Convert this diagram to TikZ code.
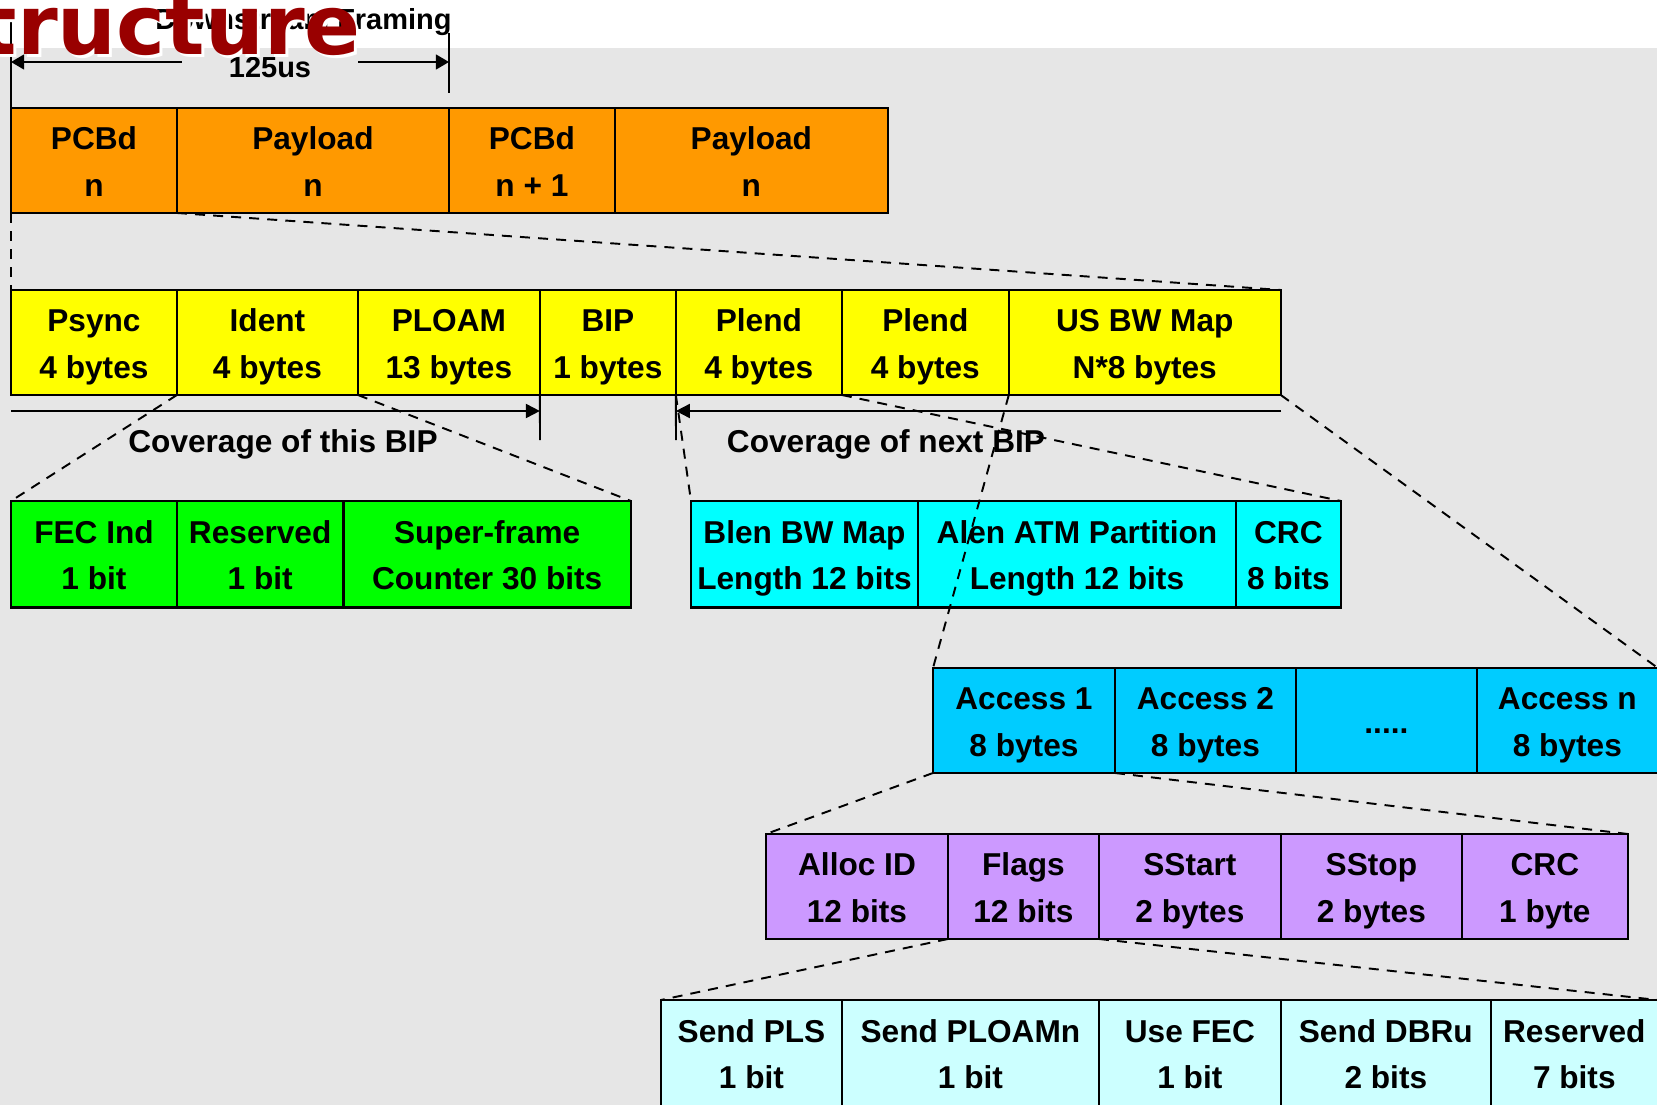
\documentclass[tikz,border=0pt]{standalone}
\usepackage{fontspec}
\setmainfont{Liberation Sans}
\newfontfamily\titlefont{DejaVu Sans}
\usepackage{xcolor}
\usetikzlibrary{positioning,arrows.meta}

\definecolor{bggray}{HTML}{E6E6E6}
\definecolor{hdrorange}{HTML}{FF9900}
\definecolor{pcbyellow}{HTML}{FFFF00}
\definecolor{psgreen}{HTML}{00FF00}
\definecolor{plcyan}{HTML}{00FFFF}
\definecolor{acblue}{HTML}{00CCFF}
\definecolor{alpurple}{HTML}{CC99FF}
\definecolor{flcyan}{HTML}{CCFFFF}
\definecolor{titlered}{HTML}{990000}

\begin{document}
\begin{tikzpicture}[x=0.02cm, y=-0.02cm,
    fieldbox/.style={draw, line width=1.3pt, outer sep=0pt, inner sep=0pt, minimum height=2.1cm, align=center,
        font=\fontsize{18pt}{26.3pt}\selectfont\bfseries, execute at end node={\vphantom{y}}},
    field/.style={fieldbox, execute at begin node={\rule{0pt}{1.554cm}}},
    covtext/.style={inner sep=0pt, font=\fontsize{18pt}{26pt}\selectfont\bfseries},
    toptext/.style={inner sep=0pt, font=\fontsize{16.5pt}{19pt}\selectfont\bfseries},
    fan/.style={line width=1.1pt, dash pattern=on 5.7pt off 4.6pt},
    tick/.style={line width=1.1pt},
    dimline/.style={line width=1.1pt, -{Triangle[length=8pt, width=8pt]}},
    dimboth/.style={line width=1.1pt, {Triangle[length=7.5pt, width=8.5pt]}-{Triangle[length=7.5pt, width=8.5pt]}}]
    \useasboundingbox (0,0) rectangle (1657,1105);
    \clip (0,0) rectangle (1657,1105);
    \fill[white] (0,0) rectangle (1657,48);
    \fill[bggray] (0,48) rectangle (1657,1105);

    % Downstream frame
    \node[field, fill=hdrorange, minimum width=3.32cm, anchor=north west] (pcbd1) at (11,108) {PCBd\\n};
    \node[field, fill=hdrorange, minimum width=5.44cm, right=0pt of pcbd1] (pay1) {Payload\\n};
    \node[field, fill=hdrorange, minimum width=3.32cm, right=0pt of pay1] (pcbd2) {PCBd\\n + 1};
    \node[field, fill=hdrorange, minimum width=5.46cm, right=0pt of pcbd2] (pay2) {Payload\\n};

    % PCBd
    \node[field, fill=pcbyellow, minimum width=3.32cm, anchor=north west] (psync) at (11,290) {Psync\\4 bytes};
    \node[field, fill=pcbyellow, minimum width=3.62cm, right=0pt of psync] (ident) {Ident\\4 bytes};
    \node[field, fill=pcbyellow, minimum width=3.64cm, right=0pt of ident] (ploam) {PLOAM\\13 bytes};
    \node[field, fill=pcbyellow, minimum width=2.72cm, right=0pt of ploam] (bip) {BIP\\1 bytes};
    \node[field, fill=pcbyellow, minimum width=3.32cm, right=0pt of bip] (plend1) {Plend\\4 bytes};
    \node[field, fill=pcbyellow, minimum width=3.34cm, right=0pt of plend1] (plend2) {Plend\\4 bytes};
    \node[field, fill=pcbyellow, minimum width=5.44cm, right=0pt of plend2] (usmap) {US BW Map\\N*8 bytes};

    % Ident
    \node[field, fill=psgreen, minimum width=3.32cm, minimum height=2.13cm, anchor=north west] (fecind) at (11,501) {FEC Ind\\1 bit};
    \node[field, fill=psgreen, minimum width=3.33cm, minimum height=2.13cm, right=0pt of fecind] (resv1) {Reserved\\1 bit};
    \node[field, fill=psgreen, minimum width=5.75cm, minimum height=2.13cm, right=0pt of resv1] (sframe) {Super-frame\\Counter 30 bits};

    % Plend
    \node[field, fill=plcyan, minimum width=4.54cm, minimum height=2.13cm, anchor=north west] (blen) at (691,501) {Blen BW Map\\Length 12 bits};
    \node[field, fill=plcyan, minimum width=6.36cm, minimum height=2.13cm, right=0pt of blen] (alen) {Alen ATM Partition\\Length 12 bits};
    \node[field, fill=plcyan, minimum width=2.1cm, minimum height=2.13cm, right=0pt of alen] (crc8) {CRC\\8 bits};

    % US BW Map
    \node[field, fill=acblue, minimum width=3.64cm, anchor=north west] (acc1) at (933,668) {Access 1\\8 bytes};
    \node[field, fill=acblue, minimum width=3.62cm, right=0pt of acc1] (acc2) {Access 2\\8 bytes};
    \node[fieldbox, fill=acblue, minimum width=3.62cm, right=0pt of acc2, execute at begin node={\rule{0pt}{0.64cm}}] (accdots) {.....};
    \node[field, fill=acblue, minimum width=3.62cm, right=0pt of accdots] (accn) {Access n\\8 bytes};

    % Access
    \node[field, fill=alpurple, minimum width=3.64cm, anchor=north west] (allocid) at (766,834) {Alloc ID\\12 bits};
    \node[field, fill=alpurple, minimum width=3.02cm, right=0pt of allocid] (flags) {Flags\\12 bits};
    \node[field, fill=alpurple, minimum width=3.64cm, right=0pt of flags] (sstart) {SStart\\2 bytes};
    \node[field, fill=alpurple, minimum width=3.62cm, right=0pt of sstart] (sstop) {SStop\\2 bytes};
    \node[field, fill=alpurple, minimum width=3.32cm, right=0pt of sstop] (crc1) {CRC\\1 byte};

    % Flags
    \node[field, fill=flcyan, minimum width=3.62cm, minimum height=2.12cm, anchor=north west] (sendpls) at (661,1000) {Send PLS\\1 bit};
    \node[field, fill=flcyan, minimum width=5.14cm, minimum height=2.12cm, right=0pt of sendpls] (sendploam) {Send PLOAMn\\1 bit};
    \node[field, fill=flcyan, minimum width=3.64cm, minimum height=2.12cm, right=0pt of sendploam] (usefec) {Use FEC\\1 bit};
    \node[field, fill=flcyan, minimum width=4.2cm, minimum height=2.12cm, right=0pt of usefec] (senddbru) {Send DBRu\\2 bits};
    \node[field, fill=flcyan, minimum width=3.34cm, minimum height=2.12cm, right=0pt of senddbru] (resv2) {Reserved\\7 bits};

    % expansions
    \draw[fan] (pcbd1.south west) -- (psync.north west);
    \draw[fan] (pcbd1.south east) -- (usmap.north east);
    \draw[fan] (ident.south west) -- (fecind.north west);
    \draw[fan] (ident.south east) -- (sframe.north east);
    \draw[fan] (plend1.south west) -- (blen.north west);
    \draw[fan] (plend1.south east) -- (crc8.north east);
    \draw[fan] (usmap.south west) -- (acc1.north west);
    \draw[fan] (usmap.south east) -- (accn.north east);
    \draw[fan] (acc1.south west) -- (allocid.north west);
    \draw[fan] (acc1.south east) -- (crc1.north east);
    \draw[fan] (flags.south west) -- (sendpls.north west);
    \draw[fan] (flags.south east) -- (resv2.north east);

    % BIP coverage
    \coordinate (covthisL) at (11,411);
    \coordinate (covnextR) at (1281,411);
    \coordinate (biptick) at (540,440);
    \coordinate (plendtick) at (676,440);
    \draw[tick] (bip.south west) -- (biptick);
    \draw[tick] (plend1.south west) -- (plendtick);
    \draw[dimline] (covthisL) -- (covthisL -| bip.south west);
    \draw[dimline] (covnextR) -- (covnextR -| plend1.south west);
    \node[covtext, anchor=base] (covthis) at (283,452) {Coverage of this BIP};
    \node[covtext, anchor=base] (covnext) at (886,452) {Coverage of next BIP};

    % 125us period
    \coordinate (tickL) at (11,18);
    \coordinate (tickRt) at (449,33);
    \coordinate (tickRb) at (449,93);
    \coordinate (arrL) at (11,62);
    \coordinate (arrR) at (449,62);
    \draw[tick] (pcbd1.north west) -- (tickL);
    \draw[tick] (tickRt) -- (tickRb);
    \draw[dimboth] (arrL) -- (arrR);
    \node[toptext, anchor=base, fill=bggray, minimum width=3.52cm, inner ysep=3pt] (period) at (270,78) {125us};
    \node[toptext, anchor=base east] (framing) at (452,30) {Downstream Framing};

    % slide title
    \node[anchor=base west, inner sep=0pt, text=white, font=\titlefont\fontsize{47pt}{50pt}\selectfont\bfseries] (titleshadow) at (-79,58) {Structure};
    \node[anchor=base west, inner sep=0pt, text=titlered, font=\titlefont\fontsize{47pt}{50pt}\selectfont\bfseries] (title) at (-82,55) {Structure};
\end{tikzpicture}
\end{document}
